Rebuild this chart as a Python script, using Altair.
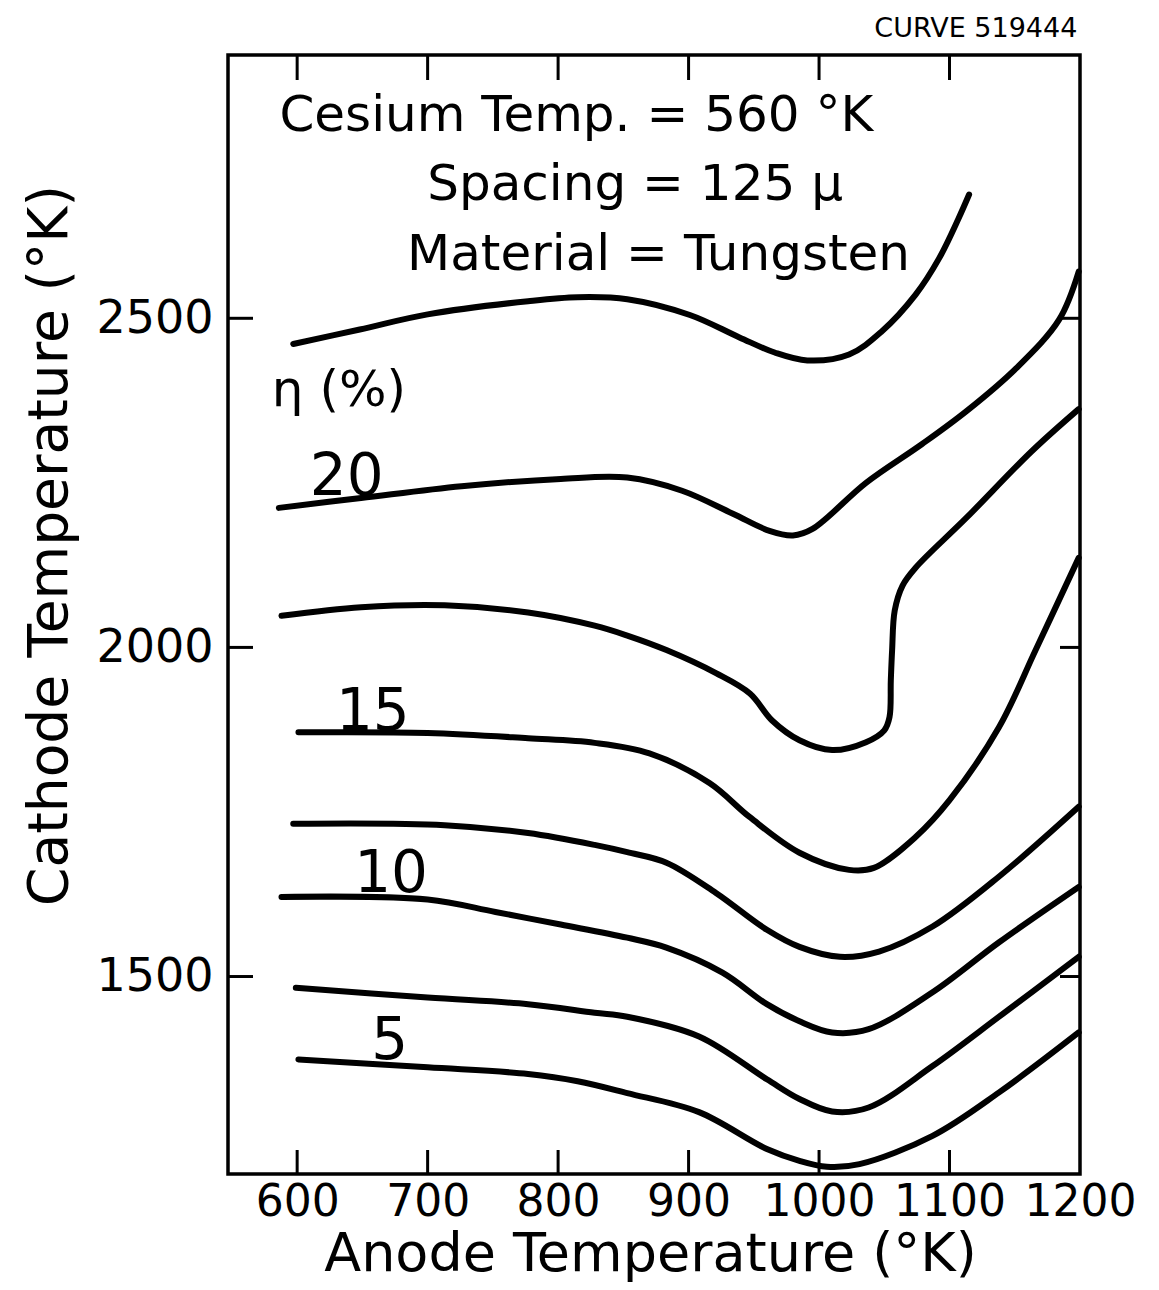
import altair as alt
import pandas as pd

# ---------------- data ----------------
X_TICKS = [600, 700, 800, 900, 1000, 1100]
X_LABELS = [600, 700, 800, 900, 1000, 1100, 1200]
Y_TICKS = [1500, 2000, 2500]

# constant-efficiency curves: anode temperature (K) vs cathode temperature (K)
A_x = [597, 648, 700, 777, 815, 853, 901, 939, 966, 991, 1023, 1048, 1074, 1092, 1107, 1115]
A_y = [2461, 2483, 2506, 2526, 2532, 2529, 2505, 2471, 2448, 2436, 2445, 2480, 2536, 2591, 2652, 2688]

B_x = [586, 649, 726, 802, 853, 895, 934, 962, 980, 995, 1036, 1079, 1113, 1151, 1184, 1199]
B_y = [2212, 2227, 2245, 2256, 2258, 2238, 2203, 2177, 2170, 2180, 2250, 2309, 2359, 2424, 2498, 2571]

C_x = [588, 649, 713, 777, 828, 853, 883, 921, 947, 964, 985, 1010, 1036, 1050, 1054, 1055, 1056, 1058, 1064, 1074, 1113, 1163, 1199]
C_y = [2048, 2061, 2064, 2053, 2033, 2018, 1996, 1961, 1930, 1889, 1859, 1844, 1856, 1874, 1894, 1950, 1996, 2056, 2094, 2121, 2197, 2298, 2362]

D_x = [601, 700, 777, 828, 870, 916, 947, 985, 1023, 1042, 1074, 1100, 1138, 1166, 1199]
D_y = [1871, 1870, 1862, 1855, 1839, 1794, 1742, 1688, 1662, 1665, 1712, 1768, 1879, 1996, 2136]

E_x = [597, 713, 777, 828, 853, 883, 921, 960, 985, 1016, 1046, 1087, 1138, 1199]
E_y = [1732, 1730, 1718, 1700, 1689, 1673, 1627, 1571, 1545, 1530, 1538, 1576, 1652, 1758]

F_x = [588, 700, 752, 802, 853, 883, 926, 960, 985, 1010, 1038, 1087, 1138, 1199]
F_y = [1621, 1617, 1598, 1579, 1559, 1544, 1506, 1458, 1432, 1415, 1420, 1476, 1552, 1636]

G_x = [599, 700, 777, 828, 853, 908, 960, 985, 1010, 1038, 1087, 1138, 1199]
G_y = [1483, 1468, 1458, 1445, 1439, 1409, 1344, 1314, 1295, 1301, 1364, 1439, 1530]

H_x = [601, 700, 777, 815, 853, 908, 960, 985, 1006, 1031, 1087, 1138, 1199]
H_y = [1374, 1362, 1352, 1341, 1323, 1294, 1238, 1220, 1211, 1215, 1258, 1324, 1415]

CURVE_NAMES = ["A", "B", "C", "D", "E", "F", "G", "H"]
CURVE_XS = [A_x, B_x, C_x, D_x, E_x, F_x, G_x, H_x]
CURVE_YS = [A_y, B_y, C_y, D_y, E_y, F_y, G_y, H_y]

# curve labels (efficiency %)
LABEL_TEXT = ["20", "15", "10", "5"]
LABEL_X = [638, 658, 672, 671]
LABEL_Y = [2232, 1874, 1629, 1374]

# info block
INFO_TEXT = ["Cesium Temp. = 560 °K", "Spacing = 125 μ", "Material = Tungsten"]
INFO_X = [814, 859, 877]
INFO_Y = [2785, 2679, 2574]

ETA_TEXT = ["η (%)"]
ETA_X = [632]
ETA_Y = [2367]

ID_TEXT = ["CURVE 519444"]
ID_X = [1198]
ID_Y = [2927]

# ---------------- build chart ----------------
rows = []
for name, xs, ys in zip(CURVE_NAMES, CURVE_XS, CURVE_YS):
    for i, (xv, yv) in enumerate(zip(xs, ys)):
        rows.append({"curve": name, "i": i, "anode": xv, "cathode": yv})
df = pd.DataFrame(rows)

W, H = 852, 1119
FONT = "DejaVu Sans"

xscale = alt.Scale(domain=[547, 1200], nice=False, zero=False)
yscale = alt.Scale(domain=[1200, 2900], nice=False, zero=False)

x_axis = alt.Axis(
    values=X_LABELS, format="d", title="Anode Temperature (°K)", ticks=False,
    domain=False, grid=False, labelFont=FONT, labelFontSize=44, labelColor="black",
    labelPadding=6, labelFlush=False, labelOverlap=False,
    titleFont=FONT, titleFontSize=54, titleFontWeight="normal", titleColor="black",
    titleX=422, titleY=96, titleBaseline="alphabetic", titleAlign="center",
)
y_axis = alt.Axis(
    values=Y_TICKS, format="d", title="Cathode Temperature (°K)", ticks=False,
    domain=False, grid=False, labelFont=FONT, labelFontSize=46, labelColor="black",
    labelPadding=15, labelFlush=False, labelOverlap=False,
    titleFont=FONT, titleFontSize=55, titleFontWeight="normal", titleColor="black",
    titleAngle=270, titleX=-162, titleY=490, titleBaseline="alphabetic", titleAlign="center",
)


def X(field):
    return alt.X(field, scale=xscale, axis=x_axis)


def Y(field):
    return alt.Y(field, scale=yscale, axis=y_axis)


lines = alt.Chart(df).mark_line(
    color="black", strokeWidth=6, interpolate="catmull-rom",
    strokeCap="round", strokeJoin="round",
).encode(
    x=X("anode:Q"),
    y=Y("cathode:Q"),
    detail="curve:N",
    order="i:Q",
)

xt = pd.DataFrame({"v": X_TICKS})
yt = pd.DataFrame({"v": Y_TICKS})
tick_style = dict(color="black", strokeWidth=3)
top_ticks = alt.Chart(xt).mark_rule(**tick_style).encode(
    x=X("v:Q"), y=alt.value(0), y2=alt.value(25))
bottom_ticks = alt.Chart(xt).mark_rule(**tick_style).encode(
    x=X("v:Q"), y=alt.value(H), y2=alt.value(H - 24))
left_ticks = alt.Chart(yt).mark_rule(**tick_style).encode(
    y=Y("v:Q"), x=alt.value(0), x2=alt.value(25))
right_ticks = alt.Chart(yt).mark_rule(**tick_style).encode(
    y=Y("v:Q"), x=alt.value(W), x2=alt.value(W - 20))


def text_layer(texts, xs, ys, size, align="center"):
    d = pd.DataFrame({"t": texts, "x": xs, "y": ys})
    return alt.Chart(d).mark_text(
        font=FONT, fontSize=size, color="black", align=align, baseline="alphabetic"
    ).encode(
        x=X("x:Q"),
        y=Y("y:Q"),
        text="t:N",
    )


info = text_layer(INFO_TEXT, INFO_X, INFO_Y, 50)
eta = text_layer(ETA_TEXT, ETA_X, ETA_Y, 50)
labels = text_layer(LABEL_TEXT, LABEL_X, LABEL_Y, 58)
cid = text_layer(ID_TEXT, ID_X, ID_Y, 27, align="right")

chart = alt.layer(
    lines, top_ticks, bottom_ticks, left_ticks, right_ticks, info, eta, labels, cid
).properties(
    width=W, height=H,
    autosize=alt.AutoSizeParams(type="none"),
    padding={"left": 220, "top": 47, "right": 70, "bottom": 108},
    background="white",
).configure_view(
    stroke="black", strokeWidth=3.5
)

chart.save("out.html", embed_options={"renderer": "svg", "actions": False})
